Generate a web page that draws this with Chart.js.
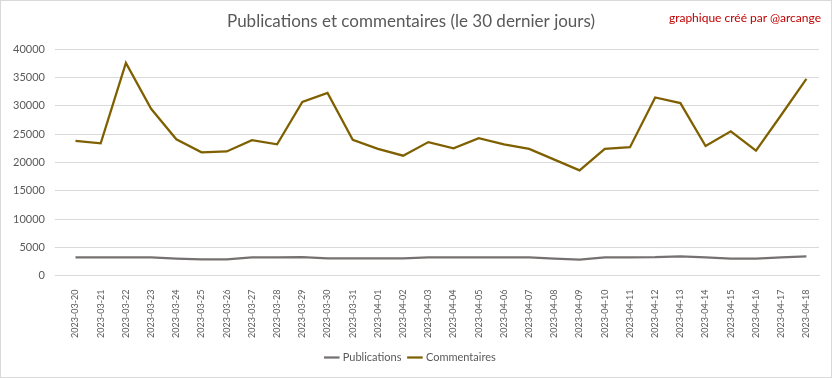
<!DOCTYPE html>
<html>
<head>
<meta charset="utf-8">
<script src="https://cdn.jsdelivr.net/npm/chart.js@4"></script>
<style>
html,body{margin:0;padding:0;background:#fff;}
#wrap{position:relative;width:830px;height:376px;border:1px solid #D9D9D9;}
#note{position:absolute;right:10px;top:9px;color:#C00000;font-family:Lato,sans-serif;font-size:12px;}
</style>
</head>
<body>
<div id="wrap">
<canvas id="c" width="830" height="376"></canvas>
<div id="note">graphique créé par @arcange</div>
</div>
<script>
const categories = ["2023-03-20","2023-03-21","2023-03-22","2023-03-23","2023-03-24","2023-03-25","2023-03-26","2023-03-27","2023-03-28","2023-03-29","2023-03-30","2023-03-31","2023-04-01","2023-04-02","2023-04-03","2023-04-04","2023-04-05","2023-04-06","2023-04-07","2023-04-08","2023-04-09","2023-04-10","2023-04-11","2023-04-12","2023-04-13","2023-04-14","2023-04-15","2023-04-16","2023-04-17","2023-04-18"];
const publications = [3200,3200,3200,3200,3000,2850,2850,3200,3200,3250,3050,3050,3050,3050,3200,3200,3200,3200,3200,3000,2800,3200,3200,3250,3400,3200,3000,3000,3200,3400];
const commentaires = [23800,23400,37600,29500,24100,21800,21950,23950,23200,30700,32300,24000,22400,21200,23600,22500,24300,23200,22400,20500,18600,22400,22700,31500,30500,22900,25500,22100,28400,34800];
const yTicks = [0,5000,10000,15000,20000,25000,30000,35000,40000];

new Chart(document.getElementById('c'), {
  type: 'line',
  data: {
    labels: categories,
    datasets: [
      {label:'Publications', data: publications, borderColor:'#767171', backgroundColor:'#767171', borderWidth:2.25, pointRadius:0, tension:0},
      {label:'Commentaires', data: commentaires, borderColor:'#7F6000', backgroundColor:'#7F6000', borderWidth:2.25, pointRadius:0, tension:0}
    ]
  },
  options: {
    responsive:false,
    animation:false,
    layout:{padding:{left:2,right:12,top:0,bottom:4}},
    plugins:{
      title:{display:true,text:'Publications et commentaires (le 30 dernier jours)',color:'#595959',font:{family:'Lato',size:17,weight:'normal'},padding:{top:10,bottom:18}},
      legend:{position:'bottom',labels:{usePointStyle:true,pointStyle:'line',color:'#595959',font:{family:'Lato',size:11},boxWidth:24,padding:8}},
      tooltip:{enabled:false}
    },
    scales:{
      x:{offset:true,grid:{display:false},border:{color:'#D9D9D9'},
         ticks:{color:'#595959',font:{family:'Lato',size:9},maxRotation:90,minRotation:90,autoSkip:false,padding:6}},
      y:{min:0,max:40000,grid:{color:'#D9D9D9'},border:{display:false},
         afterBuildTicks:(s)=>{s.ticks=yTicks.map(v=>({value:v}));},
         ticks:{color:'#595959',font:{family:'Lato',size:11},padding:10,callback:(v)=>String(v)}}
    }
  }
});
</script>
</body>
</html>
